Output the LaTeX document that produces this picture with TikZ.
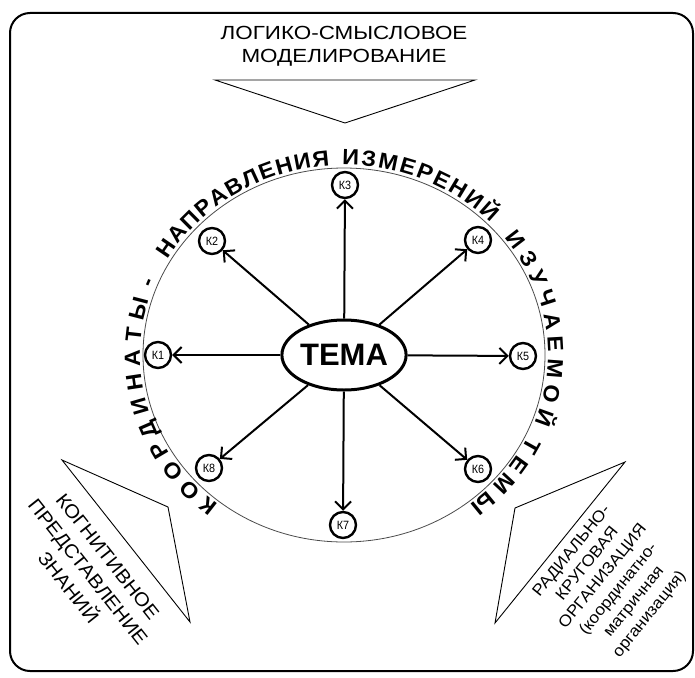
\documentclass[tikz,border=0pt]{standalone}
\usepackage{fontspec}
\setmainfont{Liberation Sans}
\newfontfamily\widefont[FakeStretch=1.18]{Liberation Sans}
\newfontfamily\sidefont[FakeStretch=1.08]{Liberation Sans}
\newfontfamily\kfont[FakeStretch=0.9]{Liberation Sans}
\newfontfamily\arcfont[FakeStretch=1.06]{Liberation Sans Bold}
\usetikzlibrary{shapes.geometric,arrows.meta,decorations.text}
\newcommand\curvefont{\fontsize{22}{22}\selectfont\arcfont}
\newcommand\arcword[3]{\path[decorate,decoration={text along path,text align={#3},
  text={|\curvefont|#2}}] (344,-355) ++(#1:204 and 190)}
\tikzset{
  kbox/.style={circle,draw,line width=2.4pt,minimum size=26pt,inner sep=0pt,font=\fontsize{12}{12}\selectfont\kfont},
  temabox/.style={ellipse,draw,line width=3pt,minimum width=122pt,minimum height=70pt,inner sep=0pt,font=\fontsize{31}{31}\selectfont\bfseries},
  ray/.style={line width=2pt,-{Straight Barb[length=8pt,width=16pt,line width=2pt]}},
  pointer/.style={line width=0.9pt,line join=miter},
  sidetext/.style={align=center,font=\fontsize{19}{25}\selectfont\sidefont}
}
\begin{document}
\begin{tikzpicture}[x=1pt,y=1pt]
\useasboundingbox (0,0) rectangle (695,-677);
\fill[white] (0,0) rectangle (695,-677);
% frame
\draw[line width=2pt,rounded corners=20pt] (10,-13) rectangle (693,-671);
% title
\node[align=center,font=\fontsize{19}{23}\selectfont\widefont] (title) at (344,-46) {ЛОГИКО-СМЫСЛОВОЕ\\МОДЕЛИРОВАНИЕ};
\draw[pointer] (215,-80) -- (475,-80) -- (345,-123) -- cycle;
% left pointer
\draw[pointer] (62,-460) -- (168,-507) -- (190,-622) -- cycle;
\node[sidetext,rotate=-51.7] (left) at (88,-572) {КОГНИТИВНОЕ\\ПРЕДСТАВЛЕНИЕ\\ЗНАНИЙ};
% right pointer
\draw[pointer] (625,-462) -- (515,-508) -- (495,-623) -- cycle;
\node[sidetext,rotate=51,font=\fontsize{16}{20}\selectfont\sidefont] (right) at (611,-583) {РАДИАЛЬНО-\\КРУГОВАЯ\\ОРГАНИЗАЦИЯ\\(координатно-\\матричная\\организация)};
% big ellipse
\draw[line width=0.8pt,black!70] (344,-355) ellipse[x radius=201, y radius=187];
% curved text, word by word
\arcword{232}{КООРДИНАТЫ}{fit to path} arc[start angle=232,end angle=163,x radius=204,y radius=190];
\arcword{162}{-}{center} arc[start angle=162,end angle=155,x radius=204,y radius=190];
\arcword{150}{НАПРАВЛЕНИЯ}{fit to path} arc[start angle=150,end angle=94,x radius=204,y radius=190];
\arcword{90.5}{ИЗМЕРЕНИЙ}{fit to path} arc[start angle=90.5,end angle=44,x radius=204,y radius=190];
\arcword{38}{ИЗУЧАЕМОЙ}{fit to path} arc[start angle=38,end angle=-21,x radius=204,y radius=190];
\arcword{-25.5}{ТЕМЫ}{fit to path} arc[start angle=-25.5,end angle=-52,x radius=204,y radius=190];
% centre
\node[temabox] (tema) at (344,-355) {ТЕМА};
\node[kbox] (k1) at (158,-355) {К1};
\node[kbox] (k2) at (212,-241) {К2};
\node[kbox] (k3) at (345,-185) {К3};
\node[kbox] (k4) at (478,-240) {К4};
\node[kbox] (k5) at (523,-356) {К5};
\node[kbox] (k6) at (478,-469) {К6};
\node[kbox] (k7) at (343,-525) {К7};
\node[kbox] (k8) at (209,-468) {К8};
\foreach \k in {k1,k2,k3,k4,k5,k6,k7,k8}{\draw[ray] (tema) -- (\k);}
\end{tikzpicture}
\end{document}
